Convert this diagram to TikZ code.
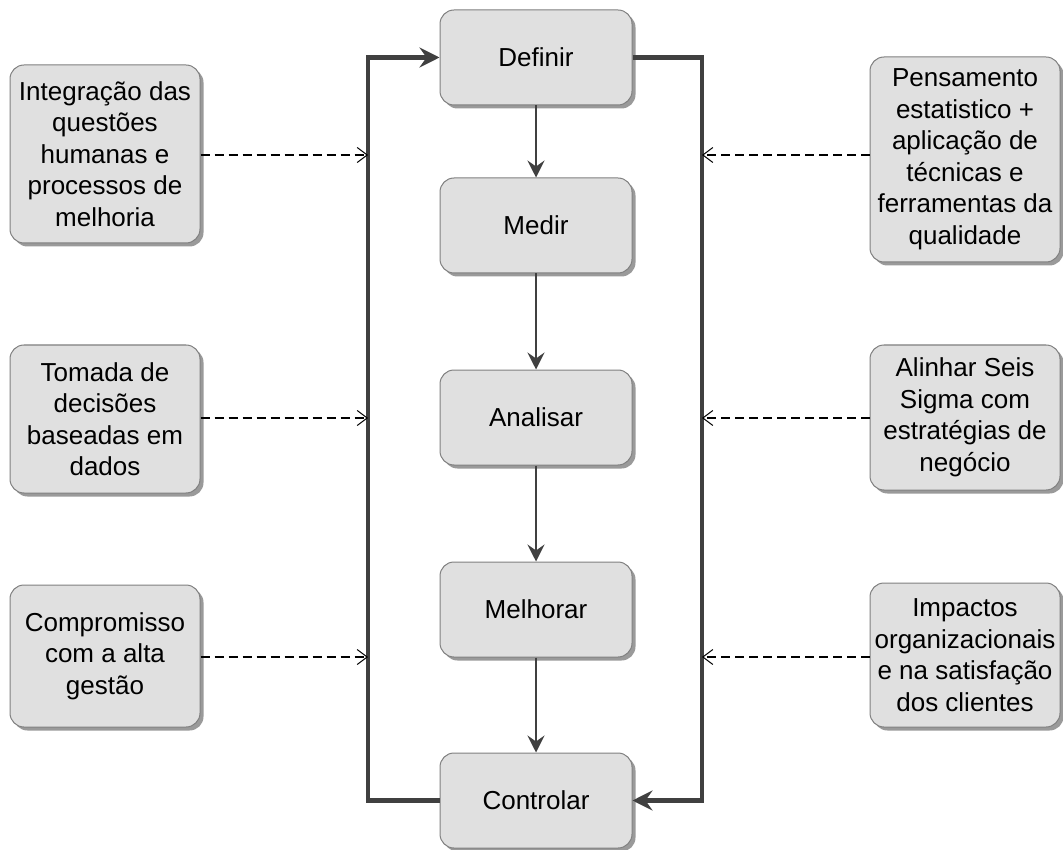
\documentclass[tikz,border=0pt]{standalone}
\usepackage{fontspec}
\setmainfont{Liberation Sans}
\usetikzlibrary{arrows.meta,shadows,calc}
\definecolor{boxfill}{HTML}{E0E0E0}
\definecolor{boxline}{HTML}{808080}
\definecolor{shadowc}{HTML}{9A9A9A}
\definecolor{linec}{HTML}{404040}
\tikzset{
  box/.style={draw=boxline, line width=1pt, fill=boxfill, rounded corners=14pt,
    align=center, inner sep=2pt, font=\fontsize{26}{31.5}\selectfont,
    drop shadow={shadow xshift=3.5pt, shadow yshift=-3.5pt, fill=shadowc, opacity=1}},
  cbox/.style={box, minimum width=192pt, minimum height=95pt},
  sbox/.style={box, minimum width=190pt},
  flow/.style={draw=linec, line width=2pt, -{Stealth[length=17pt,width=17pt,inset=6pt]}},
  loopline/.style={draw=linec, line width=4.5pt},
  looparrow/.style={loopline, -{Stealth[length=20pt,width=20pt,inset=7pt]}},
  dasharrow/.style={draw=black, line width=1.4pt, dash pattern=on 9pt off 5pt,
    -{Straight Barb[length=10pt,width=15pt,line width=1pt]}}
}
\begin{document}
\begin{tikzpicture}[x=1pt,y=-1pt]
\useasboundingbox (0,0) rectangle (1063,850);
% central column
\node[cbox] (def) at (536,57.5) {Definir};
\node[cbox] (med) at (536,225.5) {Medir};
\node[cbox] (ana) at (536,417.5) {Analisar};
\node[cbox] (mel) at (536,609.5) {Melhorar};
\node[cbox] (con) at (536,800.5) {Controlar};
% side boxes
\node[sbox, minimum height=178pt] (int) at (105,154) {Integração das\\questões\\humanas e\\processos de\\melhoria};
\node[sbox, minimum height=148pt] (tom) at (105,419) {Tomada de\\decisões\\baseadas em\\dados};
\node[sbox, minimum height=142pt] (com) at (105,656) {Compromisso\\com a alta\\gestão};
\node[sbox, minimum height=205pt] (pen) at (965,159.5) {Pensamento\\estatistico +\\aplicação de\\técnicas e\\ferramentas da\\qualidade};
\node[sbox, minimum height=145pt] (ali) at (965,417.5) {Alinhar Seis\\Sigma com\\estratégias de\\negócio};
\node[sbox, minimum height=144pt] (imp) at (965,655) {Impactos\\organizacionais\\e na satisfação\\dos clientes};
% loop line coordinates
\coordinate (lx) at (368,0);
\coordinate (rx) at (702,0);
% flow arrows
\draw[flow] (def) -- (med);
\draw[flow] (med) -- (ana);
\draw[flow] (ana) -- (mel);
\draw[flow] (mel) -- (con);
% feedback loops
\draw[looparrow] (con.west) -- (con.west -| lx) -- (def.west -| lx) -- (def.west);
\draw[looparrow] (def.east) -- (def.east -| rx) -- (con.east -| rx) -- (con.east);
% dashed influences
\draw[dasharrow] (int.east |- 0,155) -- (lx |- 0,155);
\draw[dasharrow] (tom.east |- 0,418) -- (lx |- 0,418);
\draw[dasharrow] (com.east |- 0,657) -- (lx |- 0,657);
\draw[dasharrow] (pen.west |- 0,155) -- (rx |- 0,155);
\draw[dasharrow] (ali.west |- 0,418) -- (rx |- 0,418);
\draw[dasharrow] (imp.west |- 0,657) -- (rx |- 0,657);
\end{tikzpicture}
\end{document}
